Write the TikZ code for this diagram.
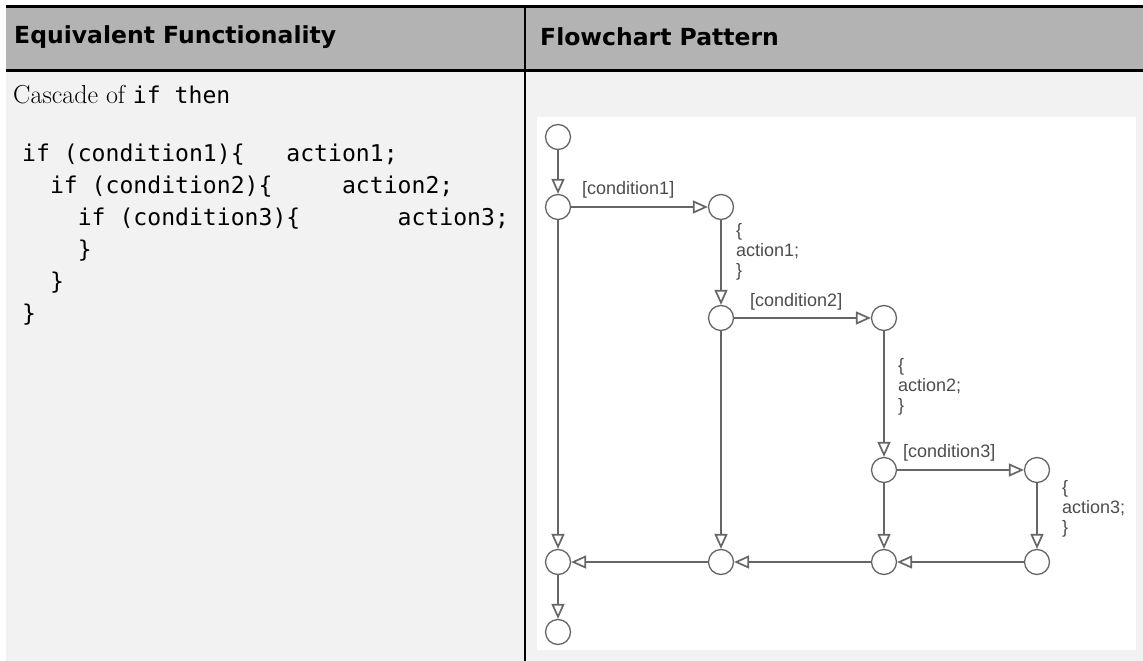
\documentclass[tikz,border=0pt]{standalone}
\usepackage{fontspec}
\setmonofont{DejaVu Sans Mono}
\newfontfamily\headfont{DejaVu Sans}
\newfontfamily\chartfont{Liberation Sans}
\usetikzlibrary{arrows.meta, positioning}

\definecolor{headgray}{HTML}{B3B3B3}
\definecolor{bodygray}{HTML}{F2F2F2}
\definecolor{wiregray}{HTML}{666666}
\definecolor{labelgray}{HTML}{4D4D4D}

\tikzset{
    junc/.style={circle, draw=wiregray, fill=white, line width=1.3pt, minimum size=25pt, inner sep=0pt},
    wire/.style={-{Triangle[open, length=15pt, width=13pt]}, draw=wiregray, line width=1.7pt},
    headtext/.style={anchor=west, inner sep=0pt, font=\headfont\bfseries\fontsize{23.5}{28}\selectfont},
    codeline/.style={anchor=west, inner sep=0pt, text height=17pt, text depth=5pt, font=\ttfamily\fontsize{23.1}{28}\selectfont},
    condlabel/.style={anchor=west, inner sep=0pt, text=labelgray, font=\chartfont\fontsize{18}{20}\selectfont},
    actlabel/.style={anchor=west, inner sep=0pt, align=left, text=labelgray, font=\chartfont\fontsize{18}{20}\selectfont}
}

\begin{document}
\begin{tikzpicture}[x=1pt, y=-1pt]
    \useasboundingbox (0,0) rectangle (1143,661);
    % table background
    \fill[white] (0,0) rectangle (1143,661);
    \fill[bodygray] (6,72) rectangle (1143,661);
    \fill[headgray] (6,7) rectangle (1143,70);
    \draw[line width=3pt] (6,6.5) -- (1143,6.5);
    \draw[line width=3pt] (6,71) -- (1143,71);
    \draw[line width=2pt] (525,6) -- (525,661);
    \fill[white] (537,117) rectangle (1136,650);

    % header and left column
    \node (hleft) [headtext] at (14,37) {Equivalent Functionality};
    \node (hright) [headtext] at (540,37) {Flowchart Pattern};
    \node (cascade) [anchor=west, inner sep=0pt, font=\fontsize{26}{30}\selectfont] at (13,95) {Cascade of {\ttfamily\fontsize{23.1}{28}\selectfont if then}};
    \node (code1) [codeline] at (22,155) {if~(condition1)\{~~~action1;};
    \node (code2) [codeline] at (22,187) {~~if~(condition2)\{~~~~~action2;};
    \node (code3) [codeline] at (22,219) {~~~~if~(condition3)\{~~~~~~~action3;};
    \node (code4) [codeline] at (22,251) {~~~~\}};
    \node (code5) [codeline] at (22,283) {~~\}};
    \node (code6) [codeline] at (22,315) {\}};

    % flowchart junctions
    \node (j0) [junc] at (558,137) {};
    \node (j1) [junc] at (558,207) {};
    \node (j2) [junc] at (721,207) {};
    \node (j3) [junc] at (721,318) {};
    \node (j4) [junc] at (884,318) {};
    \node (j5) [junc] at (884,470) {};
    \node (j6) [junc] at (1037,470) {};
    \node (j7) [junc] at (1037,562) {};
    \node (j8) [junc] at (884,562) {};
    \node (j9) [junc] at (721,562) {};
    \node (j10) [junc] at (558,562) {};
    \node (j11) [junc] at (558,632) {};

    % transitions
    \draw [wire] (j0) -- (j1);
    \draw [wire] (j1) -- (j2);
    \draw [wire] (j2) -- (j3);
    \draw [wire] (j3) -- (j4);
    \draw [wire] (j4) -- (j5);
    \draw [wire] (j5) -- (j6);
    \draw [wire] (j6) -- (j7);
    \draw [wire] (j5) -- (j8);
    \draw [wire] (j3) -- (j9);
    \draw [wire] (j1) -- (j10);
    \draw [wire] (j7) -- (j8);
    \draw [wire] (j8) -- (j9);
    \draw [wire] (j9) -- (j10);
    \draw [wire] (j10) -- (j11);

    % labels
    \node (cond1) [condlabel] at (582,190) {[condition1]};
    \node (cond2) [condlabel] at (750,302) {[condition2]};
    \node (cond3) [condlabel] at (903,453) {[condition3]};
    \node (act1) [actlabel] at (736,252) {\{\\action1;\\\}};
    \node (act2) [actlabel] at (898,387) {\{\\action2;\\\}};
    \node (act3) [actlabel] at (1062,509) {\{\\action3;\\\}};
\end{tikzpicture}
\end{document}
